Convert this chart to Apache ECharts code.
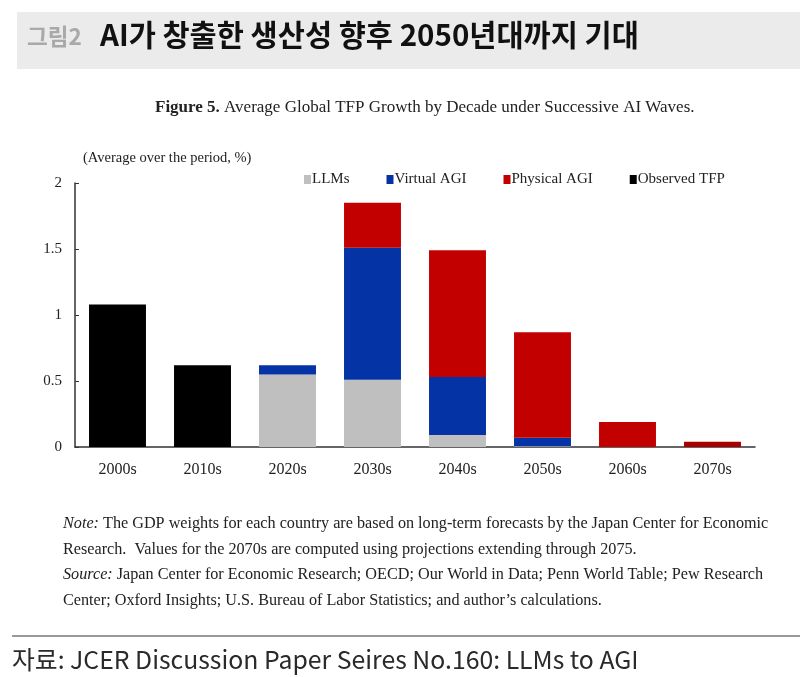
<!DOCTYPE html>
<html>
<head>
<meta charset="utf-8">
<script src="https://cdn.jsdelivr.net/npm/echarts@6/dist/echarts.min.js"></script>
<style>
  html, body { margin: 0; padding: 0; background: #fff; }
  #main { width: 800px; height: 677px; }
</style>
</head>
<body>
<div id="main"></div>
<script>
// decades on the x axis
var categories = ['2000s', '2010s', '2020s', '2030s', '2040s', '2050s', '2060s', '2070s'];
// average TFP growth contribution, %
var llms        = ['-', '-', 0.55, 0.51, 0.09, 0.005, '-', '-'];
var virtualAgi  = ['-', '-', 0.07, 1.00, 0.44, 0.065, '-', '-'];
var physicalAgi = ['-', '-', '-', 0.34, 0.96, 0.80, 0.19, 0.04];
var observedTfp = [1.08, 0.62, '-', '-', '-', '-', '-', '-'];
var yTicks = [0, 0.5, 1, 1.5, 2];

var serif = '"Liberation Serif", "Times New Roman", serif';
var kr = '"Noto Sans CJK KR", "Noto Sans", sans-serif';

var myChart = echarts.init(document.getElementById('main'));

function barSeries(name, data, color) {
    return {
        name: name,
        type: 'bar',
        stack: 'total',
        barWidth: '67%',
        itemStyle: { color: color },
        data: data
    };
}

var option = {
    animation: false,
    backgroundColor: '#fff',
    textStyle: { fontFamily: serif },
    grid: { left: 75, right: 45, top: 183, bottom: 230 },
    legend: {
        left: 299,
        top: 167,
        icon: 'rect',
        itemWidth: 7,
        itemHeight: 9,
        itemGap: 37,
        textStyle: { fontFamily: serif, fontSize: 15, color: '#222', padding: [0, 0, 0, -4] },
        data: ['LLMs', 'Virtual AGI', 'Physical AGI', 'Observed TFP']
    },
    xAxis: {
        type: 'category',
        data: categories,
        axisLine: { lineStyle: { color: '#333', width: 1.5 } },
        axisTick: { inside: true, length: 5, lineStyle: { color: '#333' } },
        axisLabel: { fontFamily: serif, fontSize: 16, color: '#222', margin: 15 }
    },
    yAxis: {
        type: 'value',
        min: yTicks[0],
        max: yTicks[yTicks.length - 1],
        interval: 0.5,
        axisLine: { show: true, lineStyle: { color: '#333', width: 1.5 } },
        axisTick: { show: true, inside: true, length: 4, lineStyle: { color: '#333' } },
        splitLine: { show: false },
        axisLabel: { fontFamily: serif, fontSize: 15, color: '#222', margin: 13 }
    },
    series: [
        barSeries('LLMs', llms, '#bfbfbf'),
        barSeries('Virtual AGI', virtualAgi, '#0433a6'),
        barSeries('Physical AGI', physicalAgi.map(function (v, i) {
            // last decade renders in a darker red in the source
            return i === physicalAgi.length - 1 ? { value: v, itemStyle: { color: '#a80000' } } : v;
        }), '#c30000'),
        barSeries('Observed TFP', observedTfp, '#000000')
    ],
    graphic: [
        // header band
        { type: 'rect', shape: { x: 17, y: 12, width: 783, height: 57 }, style: { fill: '#ebebeb' }, silent: true },
        {
            type: 'text', left: 27, top: 25,
            style: { text: '그림2', fontFamily: kr, fontSize: 22.5, fontWeight: 'bold', fill: '#a9a9a9' }
        },
        {
            type: 'text', left: 100, top: 20,
            style: { text: 'AI가 창출한 생산성 향후 2050년대까지 기대', fontFamily: kr, fontSize: 29.5, fontWeight: 'bold', fill: '#111' }
        },
        {
            type: 'text', left: 155, top: 99,
            style: {
                text: '{b|Figure 5.} Average Global TFP Growth by Decade under Successive AI Waves.',
                fontFamily: serif, fontSize: 17, fill: '#222',
                rich: { b: { fontFamily: serif, fontSize: 17, fontWeight: 'bold', fill: '#222' } }
            }
        },
        {
            type: 'text', left: 83, top: 151,
            style: { text: '(Average over the period, %)', fontFamily: serif, fontSize: 14.5, fill: '#222' }
        },
        {
            type: 'text', left: 63, top: 511,
            style: {
                text: '{i|Note:} The GDP weights for each country are based on long-term forecasts by the Japan Center for Economic\n' +
                      'Research.  Values for the 2070s are computed using projections extending through 2075.\n' +
                      '{i|Source:} Japan Center for Economic Research; OECD; Our World in Data; Penn World Table; Pew Research\n' +
                      'Center; Oxford Insights; U.S. Bureau of Labor Statistics; and author\u2019s calculations.',
                fontFamily: serif, fontSize: 16.2, lineHeight: 25.5, fill: '#222',
                rich: { i: { fontFamily: serif, fontSize: 16.2, fontStyle: 'italic', fill: '#222', lineHeight: 25.5 } }
            }
        },
        { type: 'line', shape: { x1: 12, y1: 636, x2: 800, y2: 636 }, style: { stroke: '#333', lineWidth: 1 }, silent: true },
        {
            type: 'text', left: 12, top: 647,
            style: { text: '자료: JCER Discussion Paper Seires No.160: LLMs to AGI', fontFamily: kr, fontSize: 24.8, fill: '#2a2a2a' }
        }
    ]
};

myChart.setOption(option);
</script>
</body>
</html>
